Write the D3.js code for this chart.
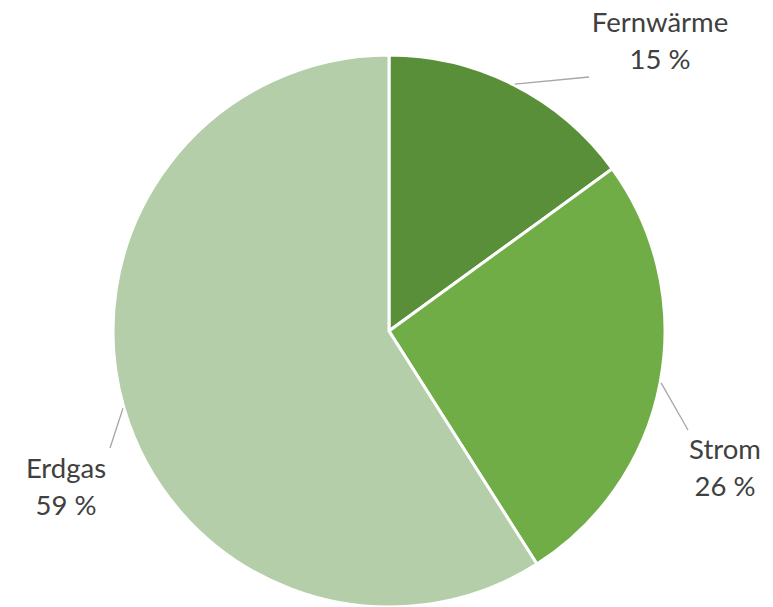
<!DOCTYPE html>
<html><head><meta charset="utf-8">
<script src="https://cdn.jsdelivr.net/npm/d3@7"></script>
<style>body{margin:0;background:#fff}svg{display:block}</style>
</head><body>
<script>
const categories = ["Fernwärme", "Strom", "Erdgas"];
const values = [15, 26, 59];
const colors = ["#5A8F3A", "#70AD47", "#B4CEAA"];
// label anchor positions (text centres) and leader-line end points
const labelPos = [[660, 32], [725, 459], [66, 478]];
const leaderEnd = [[589, 77], [688, 430], [110, 448]];

const W = 773, H = 607, cx = 389, cy = 331, R = 276;
const svg = d3.select("body").append("svg").attr("width", W).attr("height", H);
const g = svg.append("g").attr("transform", `translate(${cx},${cy})`);
const data = categories.map((c, i) => ({ c, v: values[i], i }));
const pie = d3.pie().value(d => d.v).sort(null);
const arc = d3.arc().innerRadius(0).outerRadius(R);
const arcs = pie(data);
g.selectAll("path").data(arcs).join("path")
  .attr("d", arc).attr("fill", d => colors[d.data.i])
  .attr("stroke", "#fff").attr("stroke-width", 3).attr("stroke-linejoin", "miter");

arcs.forEach((a, i) => {
  const e = leaderEnd[i];
  const ang = (a.startAngle + a.endAngle) / 2;
  const p = [cx + (R + 1) * Math.sin(ang), cy - (R + 1) * Math.cos(ang)];
  svg.append("line").attr("x1", p[0]).attr("y1", p[1]).attr("x2", e[0]).attr("y2", e[1])
    .attr("stroke", "#A6A6A6").attr("stroke-width", 1.3);
  const t = svg.append("text").attr("x", labelPos[i][0]).attr("y", labelPos[i][1])
    .attr("text-anchor", "middle").attr("font-family", "Lato, sans-serif")
    .attr("font-size", 27.5).attr("fill", "#404040");
  t.append("tspan").attr("x", labelPos[i][0]).text(a.data.c);
  t.append("tspan").attr("x", labelPos[i][0]).attr("dy", 37).text(a.data.v + " %");
});
</script>
</body></html>
